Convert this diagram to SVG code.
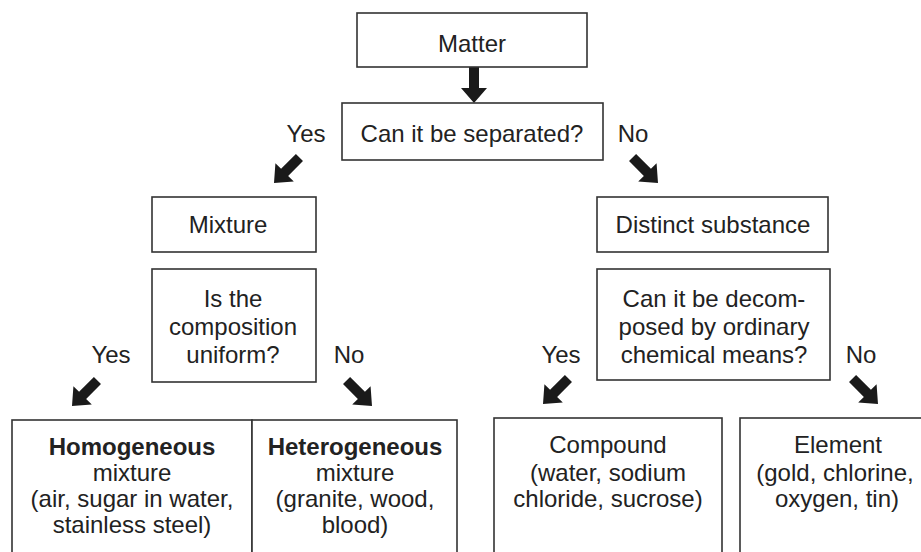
<svg xmlns="http://www.w3.org/2000/svg" width="921" height="552" viewBox="0 0 921 552">
  <style>
    .box { fill: #ffffff; stroke: #333333; stroke-width: 1.6; }
    .t { font-family: "Liberation Sans", Arial, sans-serif; font-size: 24px; fill: #222222; text-anchor: middle; }
    .b { font-weight: bold; }
    .arrow { fill: #1a1a1a; }
  </style>
  <defs>
    <!-- block arrow, tip at the origin, pointing down -->
    <path id="blockArrow" d="M-5,-36 L5,-36 L5,-15 L13,-15 L0,0 L-13,-15 L-5,-15 Z"/>
  </defs>
  <rect width="921" height="552" fill="#ffffff"/>

  <g id="connectors" class="arrow">
    <use href="#blockArrow" transform="translate(474,103)"/>
    <use href="#blockArrow" transform="translate(274,183) rotate(45)"/>
    <use href="#blockArrow" transform="translate(658,183) rotate(-45)"/>
    <use href="#blockArrow" transform="translate(72,406) rotate(45)"/>
    <use href="#blockArrow" transform="translate(372,406) rotate(-45)"/>
    <use href="#blockArrow" transform="translate(543,404) rotate(45)"/>
    <use href="#blockArrow" transform="translate(878,404) rotate(-45)"/>
  </g>

  <g id="labels">
    <text class="t" x="306" y="142">Yes</text>
    <text class="t" x="633" y="142">No</text>
    <text class="t" x="111" y="363">Yes</text>
    <text class="t" x="349" y="363">No</text>
    <text class="t" x="561" y="363">Yes</text>
    <text class="t" x="861" y="363">No</text>
  </g>

  <g id="matter">
    <rect class="box" x="357" y="13" width="230" height="54"/>
    <text class="t" x="472" y="52">Matter</text>
  </g>

  <g id="separated">
    <rect class="box" x="342" y="103" width="261" height="57"/>
    <text class="t" x="472" y="142">Can it be separated?</text>
  </g>

  <g id="mixture">
    <rect class="box" x="152" y="197" width="164" height="55"/>
    <text class="t" x="228" y="233">Mixture</text>
  </g>

  <g id="uniform">
    <rect class="box" x="152" y="269" width="164" height="113"/>
    <text class="t" x="233" y="307">Is the</text>
    <text class="t" x="233" y="335">composition</text>
    <text class="t" x="233" y="363">uniform?</text>
  </g>

  <g id="substance">
    <rect class="box" x="597" y="197" width="231" height="55"/>
    <text class="t" x="713" y="233">Distinct substance</text>
  </g>

  <g id="decompose">
    <rect class="box" x="597" y="269" width="233" height="111"/>
    <text class="t" x="714" y="307">Can it be decom-</text>
    <text class="t" x="714" y="335">posed by ordinary</text>
    <text class="t" x="714" y="363">chemical means?</text>
  </g>

  <g id="homogeneous">
    <rect class="box" x="12" y="420" width="240" height="150"/>
    <text class="t b" x="132" y="455">Homogeneous</text>
    <text class="t" x="132" y="481">mixture</text>
    <text class="t" x="132" y="507">(air, sugar in water,</text>
    <text class="t" x="132" y="533">stainless steel)</text>
  </g>

  <g id="heterogeneous">
    <rect class="box" x="252" y="420" width="205" height="150"/>
    <text class="t b" x="355" y="455">Heterogeneous</text>
    <text class="t" x="355" y="481">mixture</text>
    <text class="t" x="355" y="507">(granite, wood,</text>
    <text class="t" x="355" y="533">blood)</text>
  </g>

  <g id="compound">
    <rect class="box" x="494" y="418" width="228" height="150"/>
    <text class="t" x="608" y="453">Compound</text>
    <text class="t" x="608" y="481">(water, sodium</text>
    <text class="t" x="608" y="507">chloride, sucrose)</text>
  </g>

  <g id="element">
    <rect class="box" x="740" y="418" width="200" height="150"/>
    <text class="t" x="838" y="453">Element</text>
    <text class="t" x="835" y="481">(gold, chlorine,</text>
    <text class="t" x="837" y="507">oxygen, tin)</text>
  </g>
</svg>
